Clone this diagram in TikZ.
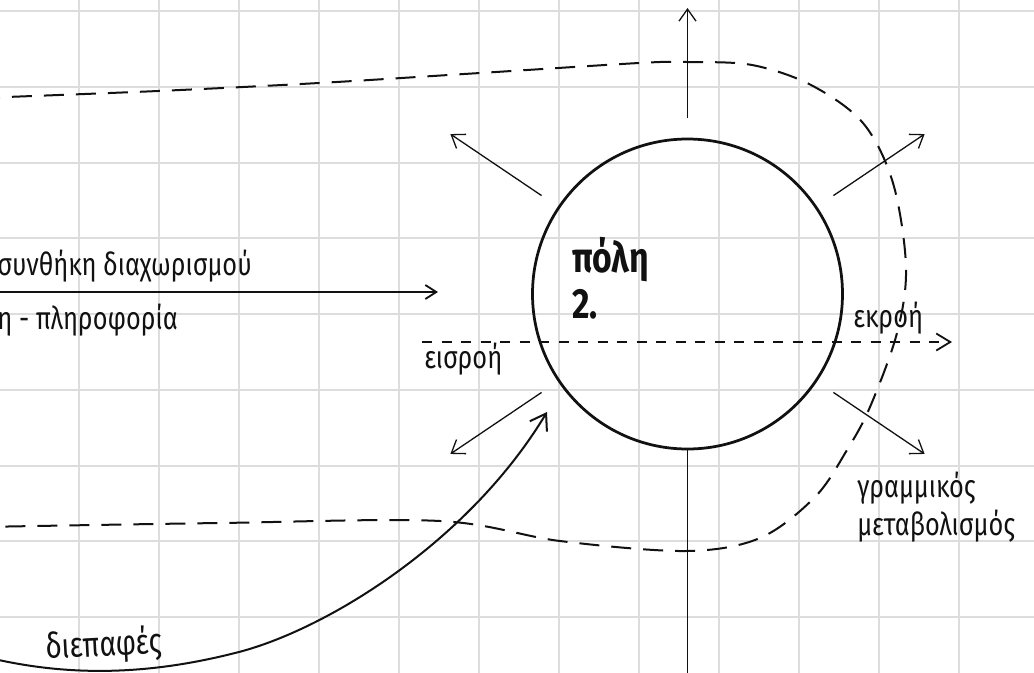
\documentclass[tikz,border=0pt]{standalone}
\usepackage{fontspec}
\setmainfont{Fira Sans}[FakeStretch=0.8]
\usetikzlibrary{arrows.meta, positioning, calc}
\definecolor{gridGray}{RGB}{221,221,221}
\definecolor{inkDark}{RGB}{17,17,17}

\begin{document}
\begin{tikzpicture}[
      x=0.2mm, y=-0.2mm,
      gridline/.style={draw=gridGray, line width=0.4mm},
      city/.style={circle, draw=inkDark, line width=0.55mm, minimum size=62mm, inner sep=0pt},
      radial/.style={-{Straight Barb[length=2.4mm, width=3.4mm]}, line width=0.26mm, inkDark},
      stem/.style={line width=0.36mm, inkDark},
      sepflow/.style={-{Straight Barb[length=2.2mm, width=2.8mm]}, line width=0.36mm, inkDark},
      throughflow/.style={-{Straight Barb[length=2.8mm, width=3.4mm]}, line width=0.36mm, inkDark, dash pattern=on 2mm off 1.9mm},
      boundary/.style={line width=0.4mm, inkDark, dash pattern=on 4mm off 2.4mm},
      iface/.style={-{Straight Barb[length=3mm, width=4mm]}, line width=0.4mm, inkDark},
      tag/.style={inner sep=0pt, anchor=base west, font=\fontsize{18}{21.6}\selectfont, inkDark},
      cityname/.style={inner sep=0pt, anchor=base west, font=\fontsize{24}{27}\selectfont\bfseries, inkDark}
  ]
      \useasboundingbox[fill=white] (0,0) rectangle (1034,673);
      \clip (0,0) rectangle (1034,673);
      \foreach \gx in {79,159,...,1039}
          \draw[gridline] (\gx,0) -- (\gx,673);
      \foreach \k in {0,...,8}
          \draw[gridline] (0,{11+75.75*\k}) -- (1034,{11+75.75*\k});

      \node[city] (polis) at (687.5,294) {};
      \node[cityname] (name1) at (572,272) {πόλη};
      \node[cityname] (name2) at (572,318) {2.};

      \foreach \ang in {270,326,214,146,34}
          \draw[radial] ($(polis.center)+(\ang:176)$) -- ($(polis.center)+(\ang:286)$);
      \coordinate (stemEnd) at (687.5,690);
      \draw[stem] (polis.south) -- (stemEnd);

      \node[tag] (cond) at (-3,275) {συνθήκη διαχωρισμού};
      \node[tag] (info) at (-3,329) {η - πληροφορία};
      \coordinate (sepStart) at (-10,292);
      \coordinate (sepEnd) at (438,292);
      \draw[sepflow] (sepStart) -- (sepEnd);

      \coordinate (inStart) at (422,342);
      \coordinate (outEnd) at (952,342);
      \draw[throughflow] (inStart) -- (outEnd);
      \node[tag] (input) at (424,368) {εισροή};
      \node[tag] (output) at (853,327) {εκροή};

      \draw[boundary] plot[smooth, tension=0.55] coordinates {
          (-20,98) (158,91) (319,83) (480,73) (639,63) (688,62) (752,65) (811,85) (863,123)
          (893,183) (906,267) (897,333) (870,407) (847,450) (815,497) (760,538) (686,551)
          (560,541) (440,521) (220,523) (-20,527)};

      \node[tag] (linear1) at (857,497) {γραμμικός};
      \node[tag] (linear2) at (857,535) {μεταβολισμός};

      \coordinate (ifaceStart) at (-40,650);
      \coordinate (ifaceEnd) at (547,412);
      \draw[iface] (ifaceStart) .. controls (60,680) and (150,675) .. (239,652)
          .. controls (330,628) and (470,540) .. (ifaceEnd);
      \node[tag, rotate=3, font=\fontsize{20}{24}\selectfont] (ifaces) at (46,659) {διεπαφές};
  \end{tikzpicture}
\end{document}
